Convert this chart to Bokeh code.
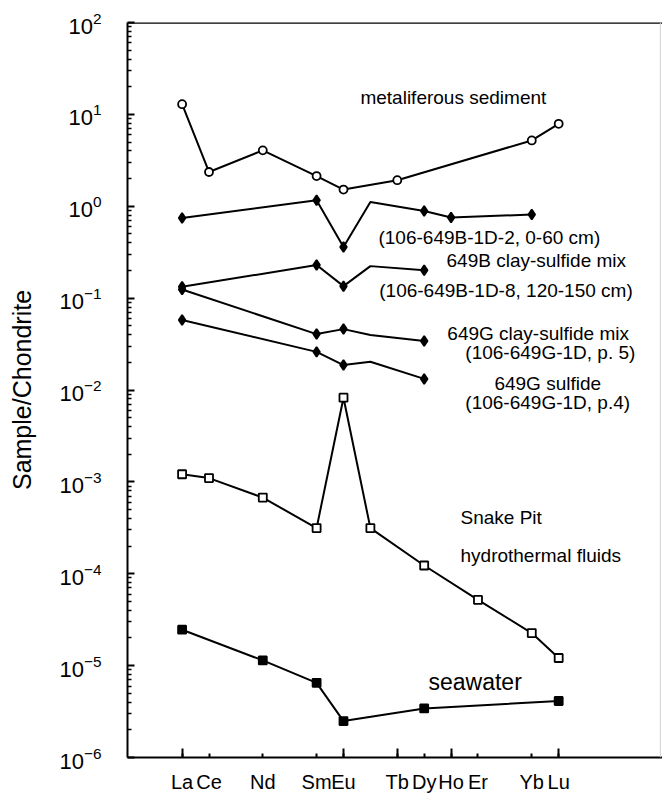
from bokeh.plotting import figure
from bokeh.models import FixedTicker, Span, LogTickFormatter, Label
from bokeh.embed import file_html
from bokeh.resources import INLINE

FONT = "Liberation Sans"

# atomic number used as x position of each rare earth element
Z = {"La": 57, "Ce": 58, "Pr": 59, "Nd": 60, "Pm": 61, "Sm": 62, "Eu": 63, "Gd": 64,
     "Tb": 65, "Dy": 66, "Ho": 67, "Er": 68, "Tm": 69, "Yb": 70, "Lu": 71}

tick_labels = ["La", "Ce", "Nd", "Sm", "Eu", "Tb", "Dy", "Ho", "Er", "Yb", "Lu"]
long_ticks = ["La", "Eu", "Tb", "Ho", "Lu"]
y_exponents = [-6, -5, -4, -3, -2, -1, 0, 1, 2]

# data (sample / chondrite)
metal_el = ["La", "Ce", "Nd", "Sm", "Eu", "Tb", "Yb", "Lu"]
metal_val = [12.9, 2.36, 4.06, 2.13, 1.52, 1.92, 5.2, 7.9]

b2_el = ["La", "Sm", "Eu", "Gd", "Dy", "Ho", "Yb"]
b2_val = [0.746, 1.16, 0.361, 1.11, 0.889, 0.753, 0.813]

b8_el = ["La", "Sm", "Eu", "Gd", "Dy"]
b8_val = [0.133, 0.229, 0.135, 0.223, 0.201]

g5_el = ["La", "Sm", "Eu", "Gd", "Dy"]
g5_val = [0.124, 0.0406, 0.046, 0.0396, 0.0341]

g4_el = ["La", "Sm", "Eu", "Gd", "Dy"]
g4_val = [0.0577, 0.026, 0.0187, 0.0203, 0.0132]

fluid_el = ["La", "Ce", "Nd", "Sm", "Eu", "Gd", "Dy", "Er", "Yb", "Lu"]
fluid_val = [0.00121, 0.0011, 0.000674, 0.000314, 0.00824, 0.000314, 0.000123, 5.2e-5, 2.26e-5, 1.21e-5]

sea_el = ["La", "Nd", "Sm", "Eu", "Dy", "Lu"]
sea_val = [2.46e-5, 1.14e-5, 6.5e-6, 2.49e-6, 3.42e-6, 4.12e-6]

unmarked = ["Gd"]  # interpolated points drawn without a symbol in the sulfide series

X_END = 74.86

p = figure(width=662, height=795, x_range=(54.97, X_END), y_range=(1e-6, 1e2),
           y_axis_type="log", output_backend="svg", toolbar_location=None,
           min_border_left=127, min_border_top=22, min_border_right=0, min_border_bottom=37)
p.outline_line_color = None
p.grid.visible = False
p.background_fill_color = "white"

# frame lines
p.add_layout(Span(location=1e2, dimension="width", line_color="black", line_width=2.5))
p.add_layout(Span(location=74.78, dimension="height", line_color="#d0d0d0", line_width=1))

# x axis
xa = p.xaxis[0]
xa.ticker = FixedTicker(ticks=[Z[e] for e in tick_labels], minor_ticks=[Z[e] for e in long_ticks])
xa.major_label_overrides = {Z[e]: e for e in tick_labels}
xa.major_tick_in = 4
xa.major_tick_out = 0
xa.minor_tick_in = 9
xa.minor_tick_out = 0
xa.major_tick_line_width = 2
xa.minor_tick_line_width = 2
xa.axis_line_width = 2
xa.major_label_standoff = 13
xa.major_label_text_font = FONT
xa.major_label_text_font_size = "20px"
xa.major_label_text_color = "black"

# y axis
ya = p.yaxis[0]
ya.ticker = FixedTicker(ticks=[10.0 ** e for e in y_exponents],
                        minor_ticks=[m * 10.0 ** e for e in y_exponents[:-1] for m in range(2, 10)])
ya.formatter = LogTickFormatter()
ya.major_tick_in = 7
ya.major_tick_out = 0
ya.minor_tick_in = 4
ya.minor_tick_out = 0
ya.major_tick_line_width = 2
ya.minor_tick_line_width = 1.5
ya.axis_line_width = 2
ya.major_label_standoff = 26
ya.major_label_text_font = FONT
ya.major_label_text_font_size = "22px"
ya.major_label_text_color = "black"
ya.axis_label = "Sample/Chondrite"
ya.axis_label_text_font = FONT
ya.axis_label_text_font_style = "normal"
ya.axis_label_text_font_size = "25px"
ya.axis_label_text_color = "black"
ya.axis_label_standoff = 20


def series(els, vals, marker, fill, size, skip=()):
    p.line([Z[e] for e in els], vals, line_color="black", line_width=2)
    mx = [Z[e] for e, v in zip(els, vals) if e not in skip]
    my = [v for e, v in zip(els, vals) if e not in skip]
    p.scatter(mx, my, marker=marker, size=size, fill_color=fill, line_color="black", line_width=1.8)


series(metal_el, metal_val, "circle", "white", 8)
series(b2_el, b2_val, "diamond", "black", 10, unmarked)
series(b8_el, b8_val, "diamond", "black", 10, unmarked)
series(g5_el, g5_val, "diamond", "black", 10, unmarked)
series(g4_el, g4_val, "diamond", "black", 10, unmarked)
series(fluid_el, fluid_val, "square", "white", 8)
series(sea_el, sea_val, "square", "black", 8)

# annotations
notes = ["metaliferous sediment", "(106-649B-1D-2,  0-60  cm)", "649B  clay-sulfide  mix",
         "(106-649B-1D-8,  120-150  cm)", "649G  clay-sulfide  mix", "(106-649G-1D,  p. 5)",
         "649G  sulfide", "(106-649G-1D,  p.4)", "Snake Pit", "hydrothermal  fluids", "seawater"]
note_x = [63.63, 64.30, 66.83, 64.33, 66.86, 67.53, 68.61, 67.53, 67.35, 67.35, 66.16]
note_y = [15.3, 0.46, 0.259, 0.122, 0.0417, 0.0259, 0.0119, 0.00723, 4.06e-4, 1.57e-4, 6.7e-6]
note_size = ["19px"] * 10 + ["23px"]
for t, x, y, s in zip(notes, note_x, note_y, note_size):
    p.add_layout(Label(x=x, y=y, text=t, text_font=FONT, text_font_size=s,
                       text_baseline="middle", text_align="left", text_color="black"))

open("out.html", "w").write(file_html(p, INLINE))
